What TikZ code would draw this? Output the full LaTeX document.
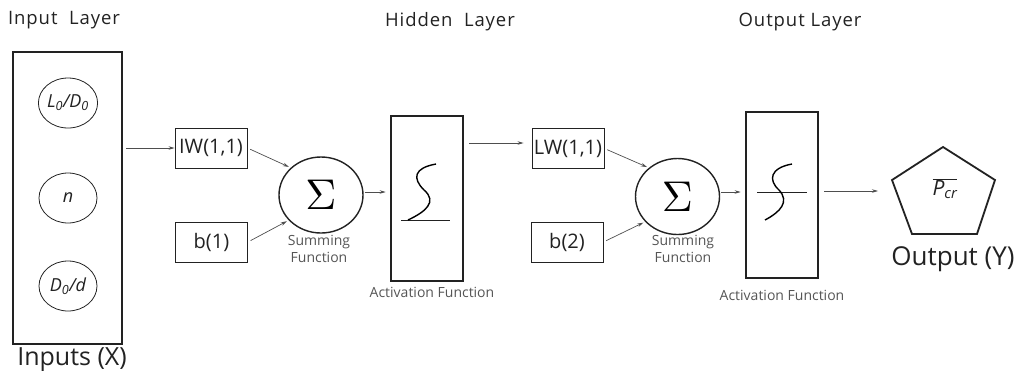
\documentclass[tikz,border=0pt]{standalone}
\usepackage{fontspec}
\setmainfont{Open Sans}
\usetikzlibrary{shapes.geometric,arrows.meta}
\definecolor{ink}{HTML}{222222}
\definecolor{soft}{HTML}{555555}
\tikzset{
  thickbox/.style={draw=ink,line width=2.6pt,inner sep=0pt},
  smallbox/.style={draw=ink,line width=0.9pt,inner sep=0pt,minimum width=72pt,minimum height=40pt,font=\fontsize{20}{20}\selectfont,text=ink},
  oval/.style={ellipse,draw=ink,line width=0.8pt,inner sep=0pt,minimum width=58pt,minimum height=50pt,font=\fontsize{18}{18}\selectfont\itshape,text=ink},
  sumnode/.style={ellipse,draw=ink,line width=1.4pt,inner sep=0pt,minimum width=84pt,minimum height=76pt},
  conn/.style={draw=ink!80,line width=0.7pt,-{Stealth[length=6pt,width=3.5pt]}},
  head/.style={font=\fontsize{18.5}{18.5}\selectfont\addfontfeatures{LetterSpace=5},text=ink},
  big/.style={font=\fontsize{25}{25}\selectfont,text=ink},
  smalltxt/.style={font=\fontsize{14}{17}\selectfont,text=soft,align=center},
  curve/.style={draw=black,line width=1.4pt},
  baseln/.style={draw=ink,line width=0.8pt}
}
\newcommand{\bigsigma}{\scalebox{4.3}{$\Sigma$}}
\begin{document}
\begin{tikzpicture}[x=1pt,y=-1pt]
\useasboundingbox (0,0) rectangle (1019,376);
% headers
\node[head] (h1) at (64,20) {Input\ \ Layer};
\node[head] (h2) at (450,22) {Hidden\ \ Layer};
\node[head] (h3) at (800,22) {Output\ Layer};
% input box
\node[thickbox,minimum width=109pt,minimum height=292pt] (inbox) at (67.5,198) {};
\node[oval] (e1) at (68,103) {L\textsubscript{0}/D\textsubscript{0}};
\node[oval] (e2) at (68,198) {n};
\node[oval] (e3) at (68,286) {D\textsubscript{0}/d};
\node[big] (inputs) at (72,360) {Inputs (X)};
% first stage
\node[smallbox] (iw) at (211,148) {IW(1,1)};
\node[smallbox] (b1) at (211.5,242) {b(1)};
\node[sumnode] (s1) at (321,195) {\bigsigma};
\node[smalltxt] (st1) at (319,249) {Summing\\Function};
\node[thickbox,minimum width=72pt,minimum height=165pt] (a1) at (427,198.5) {};
\node[smalltxt] (at1) at (432,292) {Activation Function};
\draw[baseln] (401,220) -- (450,220);
\draw[curve] (408,220) .. controls (425,212) and (438,202) .. (424,190)
  .. controls (412,178) and (414,168) .. (436,164);
% second stage
\node[smallbox] (lw) at (568,148.5) {LW(1,1)};
\node[smallbox] (b2) at (567,242) {b(2)};
\node[sumnode] (s2) at (677.5,196.5) {\bigsigma};
\node[smalltxt] (st2) at (683,249) {Summing\\Function};
\node[thickbox,minimum width=72pt,minimum height=166pt] (a2) at (782,195) {};
\node[smalltxt] (at2) at (782,295) {Activation Function};
\draw[baseln] (757,192) -- (807,192);
\draw[curve] (765,220) .. controls (780,212) and (790,202) .. (779,190)
  .. controls (768,180) and (770,168) .. (792,164);
% output
\draw[ink,line width=1.8pt] (943,147) -- (995,180) -- (977,234) -- (912,234) -- (892,180) -- cycle;
\node[font=\fontsize{21}{21}\selectfont\itshape,text=ink] (pcr) at (945,189) {$\overline{\mbox{P\textsubscript{cr}}}$};
\coordinate (pin) at (894,191);
\node[font=\fontsize{26}{26}\selectfont,text=ink] (outy) at (953,259) {Output (Y)};
% connectors
\draw[conn] ([xshift=3pt]inbox.east |- iw.west) -- (iw.west);
\draw[conn,shorten <=3pt,shorten >=2pt] (iw.east) -- (s1.138);
\draw[conn,shorten <=3pt,shorten >=2pt] (b1.east) -- (s1.218);
\draw[conn,shorten <=1pt,shorten >=4pt] (s1.east |- 0,192) -- (a1.west |- 0,192);
\draw[conn,shorten <=5pt,shorten >=8pt] (a1.east |- 0,143) -- (lw.west |- 0,143);
\draw[conn,shorten <=3pt,shorten >=2pt] (lw.east) -- (s2.135);
\draw[conn,shorten <=3pt,shorten >=2pt] (b2.east) -- (s2.218);
\draw[conn,shorten <=1pt,shorten >=4pt] (s2.east |- 0,192) -- (a2.west |- 0,192);
\draw[conn,shorten <=5pt,shorten >=16pt] (a2.east |- 0,191) -- (pin);
\end{tikzpicture}
\end{document}
